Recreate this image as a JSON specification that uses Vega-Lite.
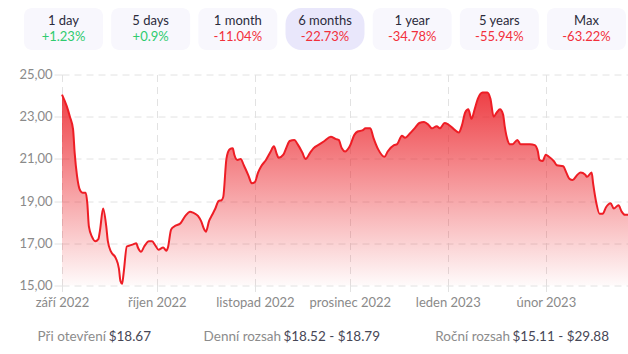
{
  "$schema": "https://vega.github.io/schema/vega-lite/v6.json",
  "padding": {"top": 8, "left": 0, "right": 0, "bottom": 4},
  "background": "white",
  "spacing": 18.5,
  "config": {"view": {"stroke": null}, "font": "Lato"},
  "vconcat": [
    {
      "width": 566,
      "height": 42,
      "data": {"values": [
        {"period": "1 day", "change": 1.23},
        {"period": "5 days", "change": 0.9},
        {"period": "1 month", "change": -11.04},
        {"period": "6 months", "change": -22.73},
        {"period": "1 year", "change": -34.78},
        {"period": "5 years", "change": -55.94},
        {"period": "Max", "change": -63.22}
      ]},
      "transform": [{"calculate": "(datum.change > 0 ? '+' : '') + toString(datum.change) + '%'", "as": "pct"}],
      "encoding": {
        "x": {"field": "period", "type": "nominal", "sort": null,
          "scale": {"domain": ["1 day", "5 days", "1 month", "6 months", "1 year", "5 years", "Max"], "range": [-38, 564], "paddingInner": 0.094, "paddingOuter": 0},
          "axis": null}
      },
      "layer": [
        {"transform": [{"filter": "datum.period != '6 months'"}], "mark": {"type": "bar", "cornerRadius": 8, "fill": "#f8f7fd"}},
        {"transform": [{"filter": "datum.period == '6 months'"}], "mark": {"type": "bar", "cornerRadius": 16, "fill": "#e9e7fb"}},
        {"mark": {"type": "text", "dy": -8, "fontSize": 13, "color": "#2b2b3b"}, "encoding": {"text": {"field": "period"}}},
        {"mark": {"type": "text", "dy": 8, "fontSize": 13},
          "encoding": {"text": {"field": "pct"}, "color": {"condition": {"test": "datum.change >= 0", "value": "#2fcb6f"}, "value": "#f2303b"}}}
      ]
    },
    {
      "width": 566,
      "height": 211,
      "data": {"values": [
        {"date": "2022-09-01T00:00Z", "price": 24.05},
        {"date": "2022-09-02T12:00Z", "price": 23.5},
        {"date": "2022-09-03T12:00Z", "price": 23.0},
        {"date": "2022-09-04T12:00Z", "price": 22.4},
        {"date": "2022-09-05T00:00Z", "price": 21.3},
        {"date": "2022-09-05T18:00Z", "price": 20.2},
        {"date": "2022-09-06T18:00Z", "price": 19.5},
        {"date": "2022-09-07T12:00Z", "price": 19.4},
        {"date": "2022-09-08T12:00Z", "price": 19.4},
        {"date": "2022-09-09T00:00Z", "price": 18.9},
        {"date": "2022-09-09T12:00Z", "price": 17.8},
        {"date": "2022-09-10T12:00Z", "price": 17.3},
        {"date": "2022-09-11T12:00Z", "price": 17.1},
        {"date": "2022-09-12T12:00Z", "price": 17.2},
        {"date": "2022-09-13T00:00Z", "price": 17.6},
        {"date": "2022-09-14T00:00Z", "price": 18.65},
        {"date": "2022-09-15T00:00Z", "price": 17.8},
        {"date": "2022-09-15T12:00Z", "price": 17.1},
        {"date": "2022-09-16T12:00Z", "price": 16.6},
        {"date": "2022-09-18T00:00Z", "price": 16.3},
        {"date": "2022-09-19T00:00Z", "price": 15.8},
        {"date": "2022-09-19T12:00Z", "price": 15.2},
        {"date": "2022-09-20T00:00Z", "price": 15.08},
        {"date": "2022-09-20T12:00Z", "price": 15.6},
        {"date": "2022-09-21T12:00Z", "price": 16.85},
        {"date": "2022-09-22T12:00Z", "price": 16.9},
        {"date": "2022-09-23T12:00Z", "price": 16.95},
        {"date": "2022-09-24T12:00Z", "price": 17.0},
        {"date": "2022-09-25T00:00Z", "price": 16.8},
        {"date": "2022-09-26T00:00Z", "price": 16.6},
        {"date": "2022-09-27T00:00Z", "price": 16.85},
        {"date": "2022-09-28T12:00Z", "price": 17.1},
        {"date": "2022-09-29T12:00Z", "price": 17.1},
        {"date": "2022-09-30T12:00Z", "price": 16.9},
        {"date": "2022-10-01T12:00Z", "price": 16.7},
        {"date": "2022-10-03T00:00Z", "price": 16.8},
        {"date": "2022-10-04T00:00Z", "price": 16.65},
        {"date": "2022-10-04T12:00Z", "price": 16.8},
        {"date": "2022-10-05T12:00Z", "price": 17.65},
        {"date": "2022-10-06T12:00Z", "price": 17.8},
        {"date": "2022-10-08T12:00Z", "price": 17.95},
        {"date": "2022-10-10T00:00Z", "price": 18.3},
        {"date": "2022-10-11T12:00Z", "price": 18.5},
        {"date": "2022-10-12T12:00Z", "price": 18.45},
        {"date": "2022-10-14T00:00Z", "price": 18.3},
        {"date": "2022-10-15T00:00Z", "price": 18.05},
        {"date": "2022-10-16T00:00Z", "price": 17.65},
        {"date": "2022-10-16T12:00Z", "price": 17.55},
        {"date": "2022-10-17T12:00Z", "price": 18.05},
        {"date": "2022-10-18T12:00Z", "price": 18.35},
        {"date": "2022-10-19T12:00Z", "price": 18.65},
        {"date": "2022-10-20T12:00Z", "price": 19.0},
        {"date": "2022-10-21T12:00Z", "price": 19.05},
        {"date": "2022-10-22T00:00Z", "price": 19.2},
        {"date": "2022-10-23T00:00Z", "price": 21.0},
        {"date": "2022-10-24T00:00Z", "price": 21.45},
        {"date": "2022-10-25T00:00Z", "price": 21.5},
        {"date": "2022-10-25T12:00Z", "price": 21.2},
        {"date": "2022-10-26T12:00Z", "price": 20.95},
        {"date": "2022-10-27T12:00Z", "price": 21.0},
        {"date": "2022-10-28T12:00Z", "price": 20.7},
        {"date": "2022-10-30T00:00Z", "price": 20.2},
        {"date": "2022-10-31T00:00Z", "price": 19.85},
        {"date": "2022-11-01T00:00Z", "price": 19.9},
        {"date": "2022-11-02T00:00Z", "price": 20.35},
        {"date": "2022-11-03T00:00Z", "price": 20.65},
        {"date": "2022-11-04T12:00Z", "price": 20.95},
        {"date": "2022-11-06T00:00Z", "price": 21.35},
        {"date": "2022-11-07T00:00Z", "price": 21.6},
        {"date": "2022-11-08T00:00Z", "price": 21.2},
        {"date": "2022-11-08T12:00Z", "price": 21.05},
        {"date": "2022-11-10T00:00Z", "price": 21.2},
        {"date": "2022-11-11T00:00Z", "price": 21.55},
        {"date": "2022-11-12T00:00Z", "price": 21.85},
        {"date": "2022-11-13T12:00Z", "price": 21.9},
        {"date": "2022-11-14T12:00Z", "price": 21.7},
        {"date": "2022-11-16T00:00Z", "price": 21.3},
        {"date": "2022-11-17T00:00Z", "price": 21.0},
        {"date": "2022-11-18T12:00Z", "price": 21.3},
        {"date": "2022-11-19T12:00Z", "price": 21.5},
        {"date": "2022-11-21T12:00Z", "price": 21.7},
        {"date": "2022-11-23T00:00Z", "price": 21.85},
        {"date": "2022-11-25T00:00Z", "price": 22.05},
        {"date": "2022-11-26T12:00Z", "price": 21.95},
        {"date": "2022-11-27T12:00Z", "price": 21.9},
        {"date": "2022-11-28T12:00Z", "price": 21.5},
        {"date": "2022-11-29T12:00Z", "price": 21.35},
        {"date": "2022-12-01T00:00Z", "price": 21.6},
        {"date": "2022-12-02T12:00Z", "price": 22.15},
        {"date": "2022-12-03T12:00Z", "price": 22.3},
        {"date": "2022-12-05T00:00Z", "price": 22.35},
        {"date": "2022-12-06T00:00Z", "price": 22.45},
        {"date": "2022-12-07T12:00Z", "price": 22.45},
        {"date": "2022-12-08T12:00Z", "price": 22.0},
        {"date": "2022-12-10T00:00Z", "price": 21.45},
        {"date": "2022-12-12T00:00Z", "price": 21.1},
        {"date": "2022-12-13T00:00Z", "price": 21.35},
        {"date": "2022-12-15T00:00Z", "price": 21.65},
        {"date": "2022-12-16T00:00Z", "price": 21.7},
        {"date": "2022-12-17T12:00Z", "price": 22.1},
        {"date": "2022-12-18T12:00Z", "price": 22.0},
        {"date": "2022-12-20T00:00Z", "price": 22.2},
        {"date": "2022-12-21T12:00Z", "price": 22.45},
        {"date": "2022-12-23T00:00Z", "price": 22.7},
        {"date": "2022-12-24T12:00Z", "price": 22.75},
        {"date": "2022-12-26T00:00Z", "price": 22.6},
        {"date": "2022-12-27T00:00Z", "price": 22.45},
        {"date": "2022-12-28T12:00Z", "price": 22.55},
        {"date": "2022-12-29T12:00Z", "price": 22.45},
        {"date": "2022-12-31T00:00Z", "price": 22.7},
        {"date": "2023-01-01T00:00Z", "price": 22.65},
        {"date": "2023-01-03T00:00Z", "price": 22.4},
        {"date": "2023-01-04T12:00Z", "price": 22.25},
        {"date": "2023-01-05T12:00Z", "price": 22.6},
        {"date": "2023-01-06T12:00Z", "price": 23.2},
        {"date": "2023-01-07T12:00Z", "price": 23.35},
        {"date": "2023-01-08T12:00Z", "price": 22.9},
        {"date": "2023-01-09T12:00Z", "price": 23.35},
        {"date": "2023-01-10T12:00Z", "price": 23.85},
        {"date": "2023-01-12T00:00Z", "price": 24.15},
        {"date": "2023-01-13T12:00Z", "price": 24.15},
        {"date": "2023-01-14T12:00Z", "price": 23.85},
        {"date": "2023-01-15T12:00Z", "price": 23.0},
        {"date": "2023-01-16T12:00Z", "price": 23.2},
        {"date": "2023-01-17T12:00Z", "price": 23.35},
        {"date": "2023-01-18T12:00Z", "price": 23.1},
        {"date": "2023-01-19T00:00Z", "price": 22.55},
        {"date": "2023-01-20T00:00Z", "price": 21.85},
        {"date": "2023-01-20T12:00Z", "price": 21.7},
        {"date": "2023-01-21T12:00Z", "price": 21.7},
        {"date": "2023-01-23T00:00Z", "price": 21.9},
        {"date": "2023-01-24T00:00Z", "price": 21.7},
        {"date": "2023-01-25T12:00Z", "price": 21.7},
        {"date": "2023-01-27T00:00Z", "price": 21.7},
        {"date": "2023-01-28T12:00Z", "price": 21.65},
        {"date": "2023-01-29T12:00Z", "price": 21.35},
        {"date": "2023-01-30T00:00Z", "price": 20.95},
        {"date": "2023-01-31T00:00Z", "price": 20.9},
        {"date": "2023-02-01T00:00Z", "price": 21.2},
        {"date": "2023-02-02T00:00Z", "price": 21.1},
        {"date": "2023-02-03T12:00Z", "price": 20.9},
        {"date": "2023-02-04T12:00Z", "price": 20.7},
        {"date": "2023-02-06T12:00Z", "price": 20.65},
        {"date": "2023-02-07T12:00Z", "price": 20.35},
        {"date": "2023-02-08T12:00Z", "price": 20.05},
        {"date": "2023-02-09T12:00Z", "price": 20.0},
        {"date": "2023-02-11T00:00Z", "price": 20.25},
        {"date": "2023-02-12T00:00Z", "price": 20.35},
        {"date": "2023-02-13T12:00Z", "price": 20.25},
        {"date": "2023-02-14T00:00Z", "price": 20.15},
        {"date": "2023-02-15T12:00Z", "price": 20.35},
        {"date": "2023-02-16T00:00Z", "price": 19.8},
        {"date": "2023-02-17T00:00Z", "price": 18.9},
        {"date": "2023-02-18T00:00Z", "price": 18.4},
        {"date": "2023-02-19T00:00Z", "price": 18.4},
        {"date": "2023-02-20T00:00Z", "price": 18.7},
        {"date": "2023-02-21T12:00Z", "price": 18.9},
        {"date": "2023-02-22T12:00Z", "price": 18.65},
        {"date": "2023-02-24T00:00Z", "price": 18.8},
        {"date": "2023-02-25T00:00Z", "price": 18.5},
        {"date": "2023-02-26T00:00Z", "price": 18.35},
        {"date": "2023-02-27T00:00Z", "price": 18.35}
      ]},
      "encoding": {
        "x": {"field": "date", "type": "temporal",
          "scale": {"type": "utc", "domain": [{"year": 2022, "month": 9, "date": 1, "utc": true}, {"year": 2023, "month": 2, "date": 27, "utc": true}]},
          "axis": {
            "title": null,
            "values": [
              {"year": 2022, "month": 9, "date": 1, "utc": true},
              {"year": 2022, "month": 10, "date": 1, "utc": true},
              {"year": 2022, "month": 11, "date": 1, "utc": true},
              {"year": 2022, "month": 12, "date": 1, "utc": true},
              {"year": 2023, "month": 1, "date": 1, "utc": true},
              {"year": 2023, "month": 2, "date": 1, "utc": true}
            ],
            "labelExpr": "['leden','únor','březen','duben','květen','červen','červenec','srpen','září','říjen','listopad','prosinec'][utcmonth(datum.value)] + ' ' + utcyear(datum.value)",
            "labelFlush": false,
            "labelOverlap": false,
            "domain": false,
            "grid": true,
            "gridColor": "#e2e2e2",
            "gridDash": [7, 5],
            "tickColor": "#e2e2e2",
            "tickSize": 6,
            "labelPadding": 4.5,
            "labelColor": "#8a8a8a",
            "labelFontSize": 13,
            "labelFont": "Lato"
          }
        },
        "y": {"field": "price", "type": "quantitative",
          "scale": {"domain": [15, 25], "zero": false, "nice": false},
          "axis": {
            "title": null,
            "values": [15, 17, 19, 21, 23, 25],
            "labelExpr": "replace(format(datum.value, '.2f'), '.', ',')",
            "minExtent": 62,
            "maxExtent": 62,
            "domain": false,
            "grid": true,
            "gridColor": "#e2e2e2",
            "gridDash": [7, 5],
            "tickColor": "#e2e2e2",
            "tickSize": 8,
            "labelPadding": 2,
            "labelColor": "#8a8a8a",
            "labelFontSize": 13,
            "labelFont": "Lato"
          }
        }
      },
      "layer": [
        {"mark": {"type": "area", "interpolate": "monotone",
          "color": {"gradient": "linear", "x1": 0, "y1": 0, "x2": 0, "y2": 1,
            "stops": [{"offset": 0, "color": "rgba(235,30,37,0.85)"}, {"offset": 1, "color": "rgba(235,30,37,0.02)"}]}},
          "encoding": {"y2": {"datum": 15}}},
        {"mark": {"type": "line", "interpolate": "monotone", "color": "#ee1d25", "strokeWidth": 2}}
      ]
    },
    {
      "width": 566,
      "height": 18,
      "data": {"values": [
        {"label": "Při otevření", "value": "$18.67"},
        {"label": "Denní rozsah", "value": "$18.52 - $18.79"},
        {"label": "Roční rozsah", "value": "$15.11 - $29.88"}
      ]},
      "encoding": {
        "x": {"field": "label", "type": "nominal", "sort": null,
          "scale": {"type": "point", "domain": ["Při otevření", "Denní rozsah", "Roční rozsah"], "range": [89, 547], "padding": 0},
          "axis": null}
      },
      "layer": [
        {"transform": [{"filter": "datum.label == 'Při otevření'"}],
          "mark": {"type": "text", "align": "right", "dx": -45, "fontSize": 13.5, "color": "#8c8c8c"}, "encoding": {"text": {"field": "label"}}},
        {"transform": [{"filter": "datum.label != 'Při otevření'"}],
          "mark": {"type": "text", "align": "right", "dx": -99, "fontSize": 13.5, "color": "#8c8c8c"}, "encoding": {"text": {"field": "label"}}},
        {"mark": {"type": "text", "align": "right", "fontSize": 13.5, "color": "#474756"}, "encoding": {"text": {"field": "value"}}}
      ]
    }
  ]
}
